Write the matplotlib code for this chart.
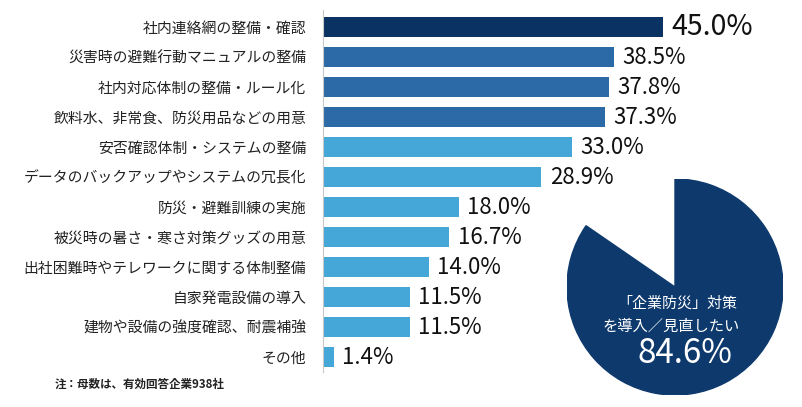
import matplotlib
matplotlib.use("Agg")
import matplotlib.pyplot as plt
from matplotlib.patches import Wedge

plt.rcParams['font.family'] = ['Noto Sans CJK JP', 'DejaVu Sans']

categories = [
    "社内連絡網の整備・確認",
    "災害時の避難行動マニュアルの整備",
    "社内対応体制の整備・ルール化",
    "飲料水、非常食、防災用品などの用意",
    "安否確認体制・システムの整備",
    "データのバックアップやシステムの冗長化",
    "防災・避難訓練の実施",
    "被災時の暑さ・寒さ対策グッズの用意",
    "出社困難時やテレワークに関する体制整備",
    "自家発電設備の導入",
    "建物や設備の強度確認、耐震補強",
    "その他",
]
values = [45.0, 38.5, 37.8, 37.3, 33.0, 28.9, 18.0, 16.7, 14.0, 11.5, 11.5, 1.4]
pie_value = 84.6
pie_text = ["「企業防災」対策", "を導入／見直したい"]
note = "注：母数は、有効回答企業938社"

NAVY = "#0a3263"
MID = "#2c6aa7"
LIGHT = "#45a6d8"
colors = [NAVY] + [MID] * 3 + [LIGHT] * 8

W, H = 803, 407
fig = plt.figure(figsize=(W / 100, H / 100), dpi=100)

# bar axes in pixel geometry
ax_left, ax_right, ax_top, ax_bottom = 323, 799, 10, 372
ax = fig.add_axes([ax_left / W, (H - ax_bottom) / H, (ax_right - ax_left) / W, (ax_bottom - ax_top) / H])
px_per_unit = 30.0
y0 = -(27 - ax_top) / px_per_unit
y1 = 11 + (ax_bottom - 357) / px_per_unit
xmax = (ax_right - ax_left) / 7.56
ypos = list(range(len(categories)))
ax.barh(ypos, values, height=20 / px_per_unit, color=colors, zorder=2)
ax.set_xlim(0, xmax)
ax.set_ylim(y1, y0)
ax.set_yticks(ypos)
ax.set_yticklabels(categories, fontsize=10.7, color="#222222")
ax.tick_params(axis='y', length=0, pad=12)
ax.set_xticks([])
for s in ['top', 'right', 'bottom']:
    ax.spines[s].set_visible(False)
ax.spines['left'].set_color("#c8c8c8")
ax.spines['left'].set_linewidth(0.8)

for i, v in enumerate(values):
    fs = 20.5 if i == 0 else 16
    ax.text(v + 1.1, i, f"{v:.1f}%", va='center', ha='left', fontsize=fs, color="#111111")

# pie
cx, cy, r = 675, 287, 108
pax = fig.add_axes([(cx - r) / W, (H - cy - r) / H, 2 * r / W, 2 * r / H])
pax.set_xlim(-1, 1)
pax.set_ylim(-1, 1)
pax.set_aspect('equal')
pax.axis('off')
end_angle = 90
start_angle = 90 + (100 - pie_value) / 100 * 360
pax.add_patch(Wedge((0, 0), 1, start_angle, end_angle + 360, color="#0d396d"))
pax.text(0.02, -0.15, pie_text[0], ha='center', va='center', color='white', fontsize=10.8)
pax.text(-0.04, -0.36, pie_text[1], ha='center', va='center', color='white', fontsize=11)
pax.text(0.09, -0.62, f"{pie_value:.1f}%", ha='center', va='center', color='white', fontsize=24)

fig.text(55 / W, 1 - 384 / H, note, fontsize=8.3, fontweight='bold', color="#222222", va='center', ha='left')

fig.savefig("out.png", dpi=100, facecolor='white')
